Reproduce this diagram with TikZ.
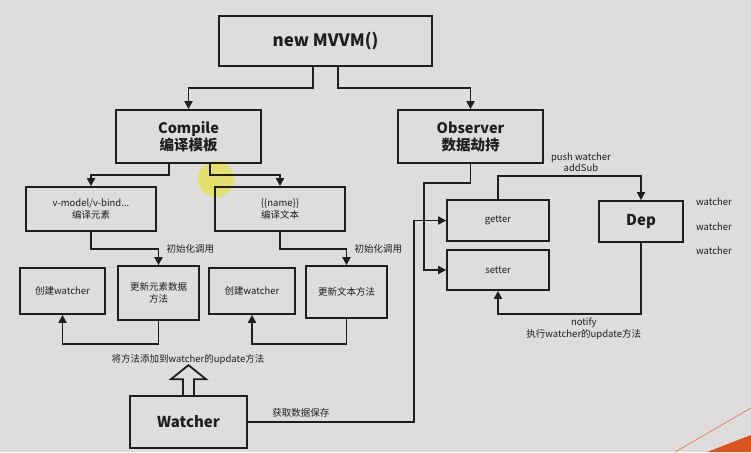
\documentclass[tikz,border=0pt]{standalone}
\usepackage{fontspec}
\setmainfont{Noto Sans CJK SC}
\usepackage{tikz}
\usetikzlibrary{arrows.meta}
\definecolor{bgGray}{RGB}{220,221,220}
\definecolor{lineDark}{RGB}{30,30,30}
\definecolor{slideOrange}{RGB}{217,84,30}
\tikzstyle{Box}=[rectangle, draw=lineDark, line width=1.7pt, align=center, inner sep=0pt, text=lineDark]
\tikzstyle{Link}=[draw=lineDark, line width=1.8pt, -{Triangle[length=8pt,width=8pt]}]
\tikzstyle{Note}=[font=\fontsize{9.5}{11.5}\selectfont, text=lineDark, align=center]

\begin{document}
\begin{tikzpicture}[x=1pt, y=-1pt]
    \fill[bgGray] (0,0) rectangle (751,452);
    \useasboundingbox (0,0) rectangle (751,452);
    \fill[yellow!85!olive, opacity=0.5] (216,179) circle (18);
    \fill[slideOrange] (707,452) -- (751,435) -- (751,452) -- cycle;
    \draw[slideOrange!70, line width=0.8pt] (675,452) -- (751,408);

    \path
    (325.5,41) node[Box, minimum width=213, minimum height=50, font=\fontsize{17}{20}\selectfont\bfseries] (mvvm) {new MVVM()}
    (188.5,136.5) node[Box, minimum width=145, minimum height=53, font=\fontsize{14.5}{17}\selectfont\bfseries] (compile) {Compile\\编译模板}
    (470.5,136.5) node[Box, minimum width=145, minimum height=53, font=\fontsize{14.5}{17}\selectfont\bfseries] (observer) {Observer\\数据劫持}
    (91,209) node[Box, Note, minimum width=130, minimum height=44] (vbind) {v-model/v-bind...\\编译元素}
    (280,209) node[Box, Note, minimum width=130, minimum height=44] (textname) {\{\{name\}\}\\编译文本}
    (62.5,291) node[Box, Note, minimum width=85, minimum height=46] (create1) {创建watcher}
    (158.5,293) node[Box, Note, minimum width=81, minimum height=54] (update1) {更新元素数据\\方法}
    (252,291) node[Box, Note, minimum width=86, minimum height=46] (create2) {创建watcher}
    (346.5,292) node[Box, Note, minimum width=81, minimum height=52] (update2) {更新文本方法}
    (188.5,422) node[Box, minimum width=117, minimum height=52, font=\fontsize{15}{18}\selectfont\bfseries] (watcher) {Watcher}
    (498,220.5) node[Box, Note, minimum width=102, minimum height=41] (getter) {getter}
    (498,270) node[Box, Note, minimum width=102, minimum height=40] (setter) {setter}
    (641,221.5) node[Box, minimum width=84, minimum height=41, font=\fontsize{15}{18}\selectfont\bfseries] (dep) {Dep}
    (188,360) node[Note] (addlabel) {将方法添加到watcher的update方法}
    (714,202) node[Note] (sub1) {watcher}
    (714,226.5) node[Note] (sub2) {watcher}
    (714,251) node[Note] (sub3) {watcher};

    \draw[Link] ([xshift=-12.5pt]mvvm.south) -- ++(0,21) -| (compile.north);
    \draw[Link] ([xshift=12.5pt]mvvm.south) -- ++(0,21) -| (observer.north);
    \draw[Link] ([xshift=-19.5pt]compile.south) -- ++(0,11) -| (vbind.north);
    \draw[Link] ([xshift=21.5pt]compile.south) -- ++(0,11) -| (textname.north);
    \draw[Link] (vbind.south) -- ++(0,17) -| (update1.north)
    node[Note, pos=0.5, anchor=west, xshift=4pt] {初始化调用};
    \draw[Link] (textname.south) -- ++(0,17) -| (update2.north)
    node[Note, pos=0.5, anchor=west, xshift=4pt] {初始化调用};
    \draw[Link] (update1.south) -- ++(0,23) -| (create1.south);
    \draw[Link] (update2.south) -- ++(0,25) -| (create2.south);
    \draw[draw=lineDark, line width=1.8pt, line join=miter] ([xshift=-5.5pt]watcher.north) -- ++(0,-16) -- ++(-12,0) -- ++(17.5,-14) -- ++(17.5,14) -- ++(-12,0) -- ([xshift=5.5pt]watcher.north);
    \draw[Link] (watcher.east) -- node[Note, pos=0.32, above] {获取数据保存} ++(166,0) |- (getter.west);
    \draw[Link] (observer.south) -- ++(0,19) -- ++(-46.5,0) |- (setter.west);
    \draw[Link] (getter.north) -- ++(0,-23) -| (dep.north)
    node[Note, pos=0.29, above] {push watcher\\addSub};
    \draw[Link] (dep.south) -- ++(0,71) -| (setter.south)
    node[Note, pos=0.2, below] {notify\\执行watcher的update方法};
\end{tikzpicture}
\end{document}
